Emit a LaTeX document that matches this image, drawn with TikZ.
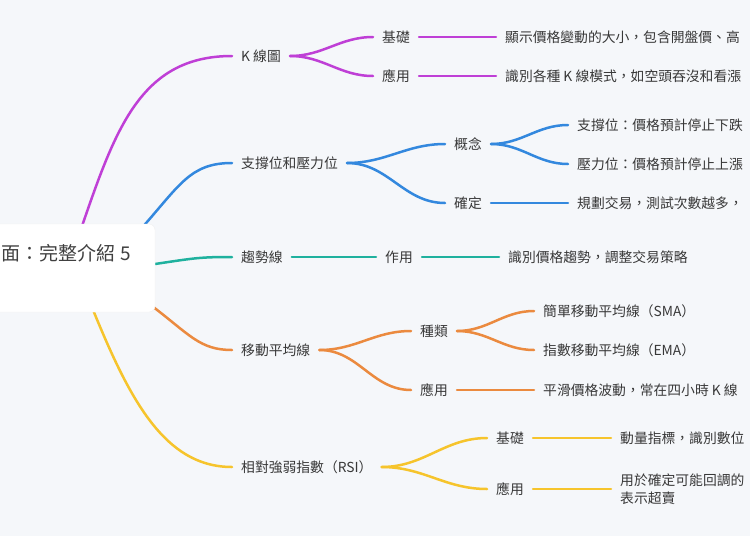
\documentclass[tikz,border=0pt]{standalone}
\usepackage{fontspec}
\setmainfont{Noto Sans CJK TC}
\begin{document}
\begin{tikzpicture}[x=1pt,y=-1pt,
  txt/.style={font=\fontsize{13.8pt}{18pt}\selectfont,text=black!78,inner xsep=9pt,inner ysep=2pt},
  lbl/.style={txt,anchor=west},
  br/.style={line width=2.5pt,line cap=round},
  cv/.style={br,out=0,in=180,looseness=1}]
\definecolor{bg}{HTML}{F5F7FA}
\definecolor{cP}{HTML}{BF3FD6}
\definecolor{cB}{HTML}{3388DE}
\definecolor{cT}{HTML}{1FB19E}
\definecolor{cO}{HTML}{EB8A3F}
\definecolor{cY}{HTML}{F6C42C}
\fill[bg] (0,0) rectangle (750,536);
\useasboundingbox (0,0) rectangle (750,536);
% centre
\coordinate (sP) at (80,232);
\coordinate (sB) at (140,230);
\coordinate (sT) at (155,264);
\coordinate (sO) at (152,306);
\coordinate (sY) at (85,290);
% level 1
\node[lbl] (k) at (232,56) {K 線圖};
\node[lbl] (s) at (232,163) {支撐位和壓力位};
\node[lbl] (t) at (232,257) {趨勢線};
\node[lbl] (m) at (232,350) {移動平均線};
\node[lbl] (r) at (232,467) {相對強弱指數（RSI）};
\draw[br,cP] (sP) .. controls (115,130) and (140,56) .. (k.west);
\draw[br,cB] (sB) .. controls (180,185) and (190,163) .. (s.west);
\draw[br,cT] (sT) .. controls (195,258) and (200,257) .. (t.west);
\draw[br,cO] (sO) .. controls (190,335) and (200,350) .. (m.west);
\draw[br,cY] (sY) .. controls (125,390) and (160,467) .. (r.west);
\filldraw[white,draw=black!6,rounded corners=6pt] (-20,224) rectangle (155,312);
\node[anchor=east,font=\fontsize{19pt}{23pt}\selectfont,text=black!75,inner sep=0pt] (c) at (131,253) {面：完整介紹 5};
% K
\node[lbl] (k1) at (373,37) {基礎};
\node[lbl] (k2) at (373,76) {應用};
\node[lbl] (k1a) at (496,37) {顯示價格變動的大小，包含開盤價、高};
\node[lbl] (k2a) at (496,76) {識別各種 K 線模式，如空頭吞沒和看漲};
\draw[cv,cP] (k.east) to (k1.west);
\draw[cv,cP] (k.east) to (k2.west);
\draw[br,cP] (k1.east) -- (k1a.west);
\draw[br,cP] (k2.east) -- (k2a.west);
% S
\node[lbl] (s1) at (445,144) {概念};
\node[lbl] (s2) at (445,203) {確定};
\node[lbl] (s1a) at (568,125) {支撐位：價格預計停止下跌};
\node[lbl] (s1b) at (568,164) {壓力位：價格預計停止上漲};
\node[lbl] (s2a) at (568,203) {規劃交易，測試次數越多，};
\draw[cv,cB] (s.east) to (s1.west);
\draw[cv,cB] (s.east) to (s2.west);
\draw[cv,cB] (s1.east) to (s1a.west);
\draw[cv,cB] (s1.east) to (s1b.west);
\draw[br,cB] (s2.east) -- (s2a.west);
% T
\node[lbl] (t1) at (376,257) {作用};
\node[lbl] (t1a) at (499,257) {識別價格趨勢，調整交易策略};
\draw[br,cT] (t.east) -- (t1.west);
\draw[br,cT] (t1.east) -- (t1a.west);
% M
\node[lbl] (m1) at (411,331) {種類};
\node[lbl] (m2) at (411,390) {應用};
\node[lbl] (m1a) at (534,311) {簡單移動平均線（SMA）};
\node[lbl] (m1b) at (534,350) {指數移動平均線（EMA）};
\node[lbl] (m2a) at (534,390) {平滑價格波動，常在四小時 K 線};
\draw[cv,cO] (m.east) to (m1.west);
\draw[cv,cO] (m.east) to (m2.west);
\draw[cv,cO] (m1.east) to (m1a.west);
\draw[cv,cO] (m1.east) to (m1b.west);
\draw[br,cO] (m2.east) -- (m2a.west);
% R
\node[lbl] (r1) at (487,438) {基礎};
\node[lbl] (r2) at (487,489) {應用};
\node[lbl] (r1a) at (611,438) {動量指標，識別數位};
\node[lbl,align=left] (r2a) at (611,489) {用於確定可能回調的\\表示超賣};
\draw[cv,cY] (r.east) to (r1.west);
\draw[cv,cY] (r.east) to (r2.west);
\draw[br,cY] (r1.east) -- (r1a.west);
\draw[br,cY] (r2.east) -- (r2a.west);
\end{tikzpicture}
\end{document}
